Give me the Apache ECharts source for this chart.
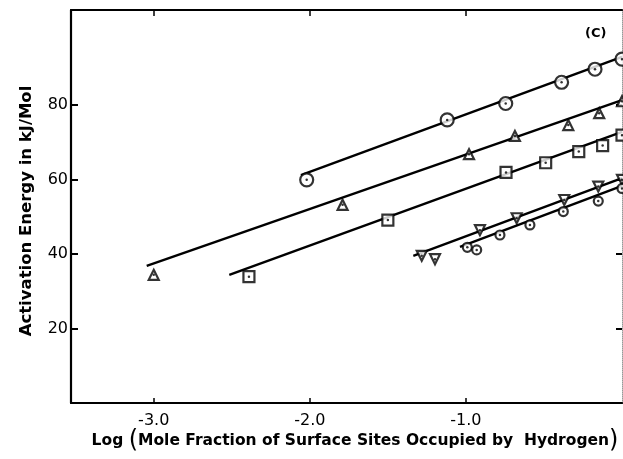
<!DOCTYPE html>
<html>
<head>
<meta charset="utf-8">
<script src="https://cdn.jsdelivr.net/npm/echarts@6/dist/echarts.min.js"></script>
<style>
  html, body { margin: 0; padding: 0; background: #fff; }
  #chart { width: 623px; height: 459px; }
</style>
</head>
<body>
<div id="chart"></div>
<script>
// Measured points: [log fraction, activation energy kJ/mol]
const circlePts   = [[-2.02, 59.9], [-1.12, 76.0], [-0.745, 80.4], [-0.387, 86.1], [-0.173, 89.6], [0.0, 92.3]];
const trianglePts = [[-3.0, 34.4], [-1.79, 53.2], [-0.98, 66.8], [-0.686, 71.7], [-0.344, 74.6], [-0.146, 77.8], [0.0, 81.0]];
const squarePts   = [[-2.39, 33.9], [-1.50, 49.1], [-0.743, 61.9], [-0.489, 64.5], [-0.277, 67.5], [-0.124, 69.1], [0.0, 71.9]];
const invTriPts   = [[-1.283, 39.5], [-1.198, 38.6], [-0.91, 46.4], [-0.675, 49.6], [-0.37, 54.5], [-0.152, 58.1], [0.0, 59.9]];
const smallCirPts = [[-0.991, 41.8], [-0.931, 41.1], [-0.782, 45.1], [-0.59, 47.8], [-0.376, 51.4], [-0.152, 54.2], [0.0, 57.6]];

// Fitted straight lines: [start, end]
const circleFit   = [[-2.057, 61.2], [0.0, 92.9]];
const triangleFit = [[-3.045, 36.8], [0.0, 81.3]];
const squareFit   = [[-2.516, 34.4], [0.0, 72.8]];
const invTriFit   = [[-1.337, 39.5], [0.0, 60.4]];
const smallCirFit = [[-1.038, 41.9], [0.0, 58.3]];

const xTicks = [-3, -2, -1];
const yTicks = [20, 40, 60, 80];

const ink = '#000';
const font = 'DejaVu Sans';

function markers(data, symbol, size, rotate) {
  return [{
    type: 'scatter', data: data, symbol: symbol, symbolSize: size, symbolRotate: rotate || 0,
    clip: false, z: 3,
    itemStyle: { color: '#fff', borderColor: ink, borderWidth: 2.2 }
  }, {
    type: 'scatter', data: data, symbol: 'circle', symbolSize: 2.5, clip: false, z: 4,
    itemStyle: { color: ink }
  }];
}
function fitLine(data) {
  return { type: 'line', data: data, symbol: 'none', clip: false, z: 2,
    lineStyle: { color: ink, width: 2.4 } };
}

const chart = echarts.init(document.getElementById('chart'));
chart.setOption({
  backgroundColor: '#fff',
  animation: false,
  grid: { left: 71, right: 1, top: 10, bottom: 56 },
  xAxis: [{
    type: 'value', min: -3.53, max: 0, position: 'bottom',
    axisLine: { show: true, onZero: false, lineStyle: { color: ink, width: 2.2 } },
    axisTick: { show: true, inside: true, length: 5, customValues: xTicks, lineStyle: { color: ink, width: 1.5 } },
    axisLabel: { customValues: xTicks, margin: 10, color: ink, fontFamily: font, fontSize: 16,
      formatter: v => v.toFixed(1) },
    splitLine: { show: false }
  }, {
    type: 'value', min: -3.53, max: 0, position: 'top',
    axisLine: { show: true, onZero: false, lineStyle: { color: ink, width: 2.2 } },
    axisTick: { show: true, inside: true, length: 6, customValues: xTicks, lineStyle: { color: ink, width: 1.5 } },
    axisLabel: { show: false },
    splitLine: { show: false }
  }],
  yAxis: [{
    type: 'value', min: 0, max: 105.5, position: 'left',
    axisLine: { show: true, onZero: false, lineStyle: { color: ink, width: 2.2 } },
    axisTick: { show: true, inside: true, length: 7, customValues: yTicks, lineStyle: { color: ink, width: 2 } },
    axisLabel: { customValues: yTicks, margin: 3, color: ink, fontFamily: font, fontSize: 16 },
    splitLine: { show: false }
  }, {
    type: 'value', min: 0, max: 105.5, position: 'right',
    axisLine: { show: true, onZero: false, lineStyle: { color: '#999', width: 1, type: 'dotted' } },
    axisTick: { show: true, inside: true, length: 6, customValues: yTicks, lineStyle: { color: ink, width: 2 } },
    axisLabel: { show: false },
    splitLine: { show: false }
  }],
  graphic: [{
    type: 'text', left: 585, top: 27,
    style: { text: '(C)', fontFamily: font, fontSize: 13, fontWeight: 'bold', fill: ink }
  }, {
    type: 'text', x: 27, y: 211, rotation: Math.PI / 2,
    style: { text: 'Activation Energy in kJ/Mol', fontFamily: font, fontSize: 16.5, fontWeight: 'bold',
      fill: ink, align: 'center', verticalAlign: 'middle' }
  }, {
    type: 'text', x: 355, y: 441,
    style: {
      text: '{t|Log }{p|(}{t|Mole Fraction of Surface Sites Occupied by  Hydrogen}{p|)}',
      align: 'center', verticalAlign: 'middle',
      rich: {
        t: { fontFamily: font, fontSize: 15.5, fontWeight: 'bold', fill: ink },
        p: { fontFamily: font, fontSize: 24, fill: ink }
      }
    }
  }],
  series: [
    fitLine(circleFit), fitLine(triangleFit), fitLine(squareFit), fitLine(invTriFit), fitLine(smallCirFit),
    ...markers(circlePts, 'circle', 13),
    ...markers(trianglePts, 'triangle', 10),
    ...markers(squarePts, 'rect', 11),
    ...markers(invTriPts, 'triangle', 10, 180),
    ...markers(smallCirPts, 'circle', 9)
  ]
});
</script>
</body>
</html>
